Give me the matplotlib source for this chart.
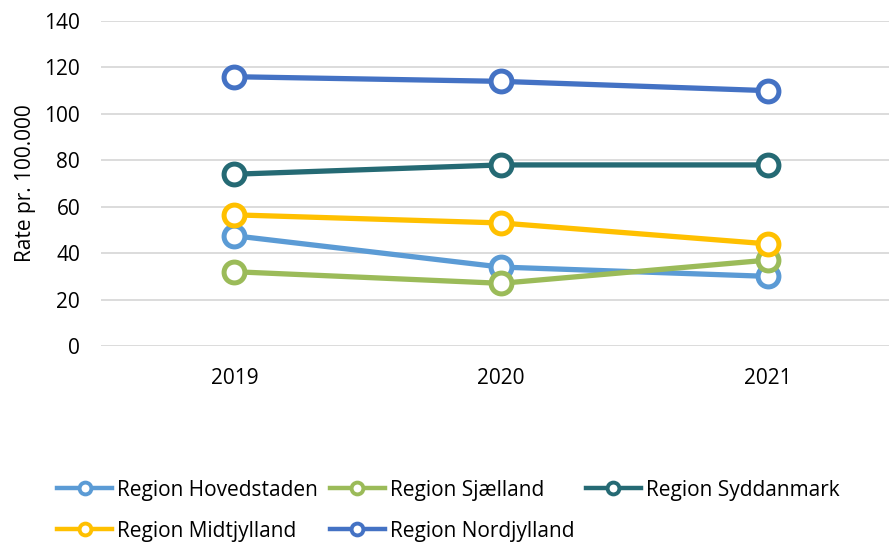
import matplotlib
matplotlib.use('Agg')
import matplotlib.pyplot as plt
from matplotlib.lines import Line2D

plt.rcParams['font.family'] = ['Open Sans', 'DejaVu Sans']
plt.rcParams['font.size'] = 15

years = ['2019', '2020', '2021']
regions = ['Region Hovedstaden', 'Region Sjælland', 'Region Syddanmark',
           'Region Midtjylland', 'Region Nordjylland']
hovedstaden = [47.5, 34, 30]
sjaelland = [32, 27, 37]
syddanmark = [74, 78, 78]
midtjylland = [56.5, 53, 44]
nordjylland = [116, 114, 110]
values = [hovedstaden, sjaelland, syddanmark, midtjylland, nordjylland]
colors = ['#5B9BD5', '#9BBB59', '#256A74', '#FFC000', '#4472C4']

fig = plt.figure(figsize=(8.89, 5.45), dpi=100)
ax = fig.add_axes([101 / 889, 1 - 346 / 545, 1 - 101 / 889, 325 / 545])

x = range(len(years))
handles = []
for name, vals, c in zip(regions, values, colors):
    ax.plot(x, vals, color=c, linewidth=3.8, marker='o', markersize=15,
            markerfacecolor='white', markeredgecolor=c, markeredgewidth=3.6,
            zorder=3)
    handles.append(Line2D([0], [0], color=c, linewidth=3.2, marker='o',
                          markersize=8.5, markerfacecolor='white',
                          markeredgecolor=c, markeredgewidth=2.8))

ax.set_xlim(-0.5, 2.455)
ax.set_ylim(0, 140)
ax.set_yticks(range(0, 141, 20))
ax.set_xticks(list(x))
ax.set_xticklabels(years)
ax.grid(axis='y', color='#D9D9D9', linewidth=1.3)
ax.set_axisbelow(True)
for s in ax.spines.values():
    s.set_visible(False)
ax.tick_params(length=0, colors='#000000', labelsize=15)
ax.tick_params(axis='x', pad=16)
ax.tick_params(axis='y', pad=15)
ax.set_ylabel('Rate pr. 100.000', fontsize=15, labelpad=6)

# row-wise order: matplotlib fills legend columns first
order = [0, 3, 1, 4, 2]
fig.legend([handles[i] for i in order], [regions[i] for i in order],
           ncol=3, loc='upper left', bbox_to_anchor=(0.055, 0.135),
           frameon=False, fontsize=15, handlelength=2.64, handletextpad=0.25,
           columnspacing=0.55, labelspacing=0.95, borderaxespad=0)

fig.savefig('out.png', dpi=100)
